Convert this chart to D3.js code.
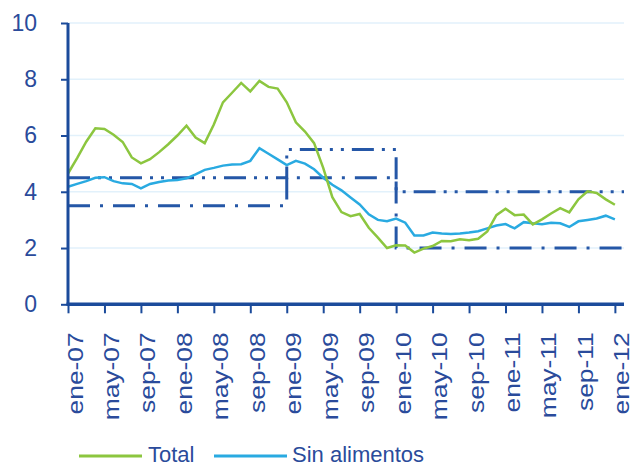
<!DOCTYPE html>
<html>
<head>
<meta charset="utf-8">
<script src="https://cdn.jsdelivr.net/npm/d3@7"></script>
<style>
body { margin: 0; background: #fff; }
svg { display: block; font-family: "Liberation Sans", Arial, sans-serif; }
</style>
</head>
<body>
<div id="chart"></div>
<script>
var months = ["ene", "feb", "mar", "abr", "may", "jun", "jul", "ago", "sep", "oct", "nov", "dic"]
var years = ["07", "08", "09", "10", "11", "12"]

// inflación anual, ene-07 a ene-12
var total = [4.65, 5.20, 5.78, 6.26, 6.23, 6.03, 5.77, 5.22, 5.01, 5.16, 5.41, 5.69,
  6.00, 6.35, 5.93, 5.73, 6.39, 7.18, 7.52, 7.87, 7.57, 7.94, 7.73, 7.67,
  7.18, 6.47, 6.14, 5.73, 4.85, 3.81, 3.28, 3.13, 3.21, 2.72, 2.37, 2.00,
  2.10, 2.09, 1.84, 1.98, 2.07, 2.25, 2.24, 2.31, 2.28, 2.33, 2.59, 3.17,
  3.40, 3.17, 3.19, 2.84, 3.02, 3.23, 3.42, 3.27, 3.73, 4.02, 3.96, 3.73,
  3.54]
var sinAlimentos = [4.18, 4.28, 4.38, 4.50, 4.52, 4.38, 4.30, 4.28, 4.12, 4.28, 4.35, 4.40,
  4.42, 4.48, 4.62, 4.78, 4.85, 4.93, 4.97, 4.98, 5.10, 5.55, 5.35, 5.15,
  4.95, 5.10, 5.00, 4.80, 4.50, 4.25, 4.05, 3.80, 3.55, 3.20, 3.00, 2.95,
  3.05, 2.90, 2.45, 2.45, 2.55, 2.52, 2.50, 2.52, 2.55, 2.60, 2.70, 2.80,
  2.85, 2.70, 2.92, 2.88, 2.85, 2.90, 2.88, 2.75, 2.95, 3.00, 3.05, 3.15,
  3.02]

// rango meta: [mes de inicio, valor]
var metaSup = [[0, 4.5], [24, 5.5], [36, 4.0], [61, 4.0]]
var metaInf = [[0, 3.5], [24, 4.5], [36, 2.0], [61, 2.0]]

var yTicks = [0, 2, 4, 6, 8, 10]
var xTicks = d3.range(0, 61, 4)

var width = 633
var height = 467
var margin = {top: 23, right: 9, bottom: 163, left: 68}

var labelColor = "#2a4b9b"
var axisColor = "#1b4b9b"

var svg = d3.select("#chart").append("svg")
.attr("width", width)
.attr("height", height)

var x = d3.scaleLinear()
.domain([0, 61])
.range([margin.left, width - margin.right])

var y = d3.scaleLinear()
.domain([0, 10])
.range([height - margin.bottom + 0.3, margin.top])

var monthLabel = (i) => months[i % 12] + "-" + years[Math.floor(i / 12)]

svg.append("g")
.selectAll("line")
.data(yTicks.slice(1))
.enter()
.append("line")
.attr("x1", x(0))
.attr("x2", x(61))
.attr("y1", (d) => y(d))
.attr("y2", (d) => y(d))
.attr("stroke", "#e2f1fb")
.attr("stroke-width", 1.5)

var refLine = d3.line()
.x((d) => x(d[0]))
.y((d) => y(d[1]))
.curve(d3.curveStepAfter)

svg.append("path")
.attr("d", refLine(metaSup))
.attr("fill", "none")
.attr("stroke", "#2557a7")
.attr("stroke-width", 3)
.attr("stroke-dasharray", "22,8,3,8,3,8")

svg.append("path")
.attr("d", refLine(metaInf))
.attr("fill", "none")
.attr("stroke", "#2557a7")
.attr("stroke-width", 3)
.attr("stroke-dasharray", "22,10,3,10")

var line = d3.line()
.x((d, i) => x(i))
.y((d) => y(d))

svg.append("path")
.attr("d", line(sinAlimentos))
.attr("fill", "none")
.attr("stroke", "#29aae1")
.attr("stroke-width", 2.5)

svg.append("path")
.attr("d", line(total))
.attr("fill", "none")
.attr("stroke", "#8cc63f")
.attr("stroke-width", 2.5)

var yAxis = svg.append("g")
.attr("transform", "translate(" + x(0) + ",0)")
.call(d3.axisLeft(y).tickValues(yTicks).tickSize(7).tickPadding(24))

yAxis.select(".domain")
.attr("stroke", axisColor)
.attr("stroke-width", 3)
.attr("d", "M0," + (y(0) + 1) + "V" + y(10))

yAxis.selectAll(".tick line")
.attr("stroke", axisColor)
.attr("stroke-width", 2)

yAxis.selectAll(".tick text")
.attr("fill", labelColor)
.style("font-size", "23px")
.style("font-family", "Liberation Sans, Arial, sans-serif")

var xAxis = svg.append("g")
.attr("transform", "translate(0," + y(0) + ")")
.call(d3.axisBottom(x).tickValues(xTicks).tickSize(9).tickFormat(monthLabel))

xAxis.select(".domain")
.attr("stroke", axisColor)
.attr("stroke-width", 3.5)
.attr("d", "M" + (x(0) - 1.5) + ",0H" + x(61))

xAxis.selectAll(".tick line")
.attr("stroke", axisColor)
.attr("stroke-width", 2)

xAxis.selectAll(".tick text")
.attr("fill", labelColor)
.style("font-size", "22px")
.style("font-family", "Liberation Sans, Arial, sans-serif")
.attr("text-anchor", "end")
.attr("x", 0)
.attr("y", 0)
.attr("dy", 0)
.attr("transform", "translate(14,28) rotate(-90) scale(1.2,1)")

var legend = svg.append("g")

var legendItems = [
  {name: "Total", color: "#8cc63f", x1: 79, x2: 142, tx: 148},
  {name: "Sin alimentos", color: "#29aae1", x1: 214, x2: 287, tx: 292}
]

legend.selectAll("line")
.data(legendItems)
.enter()
.append("line")
.attr("x1", (d) => d.x1)
.attr("x2", (d) => d.x2)
.attr("y1", 456)
.attr("y2", 456)
.attr("stroke", (d) => d.color)
.attr("stroke-width", 3)

legend.selectAll("text")
.data(legendItems)
.enter()
.append("text")
.attr("x", (d) => d.tx)
.attr("y", 462)
.attr("fill", labelColor)
.style("font-size", "22px")
.text((d) => d.name)
</script>
</body>
</html>
